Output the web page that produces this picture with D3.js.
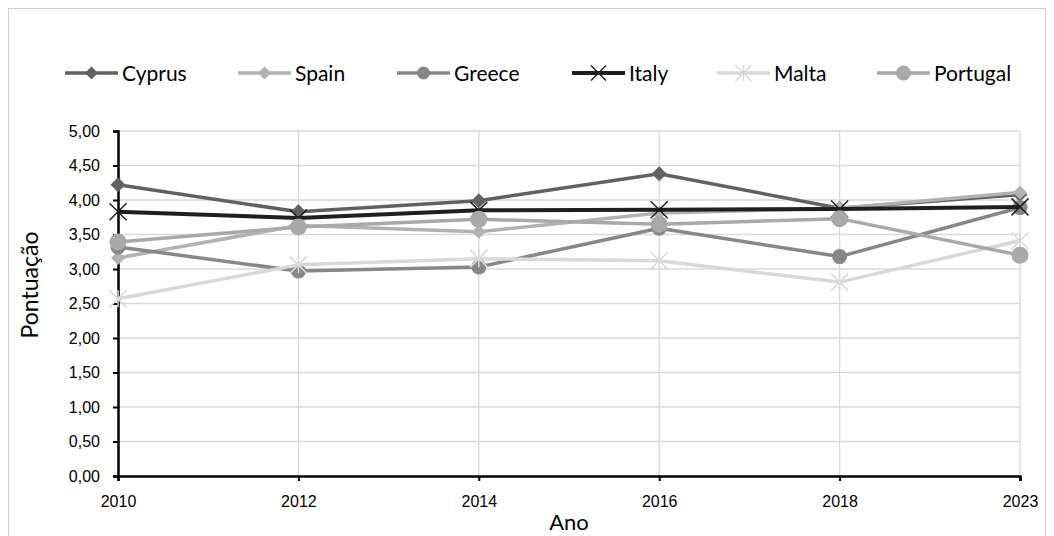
<!DOCTYPE html>
<html>
<head>
<meta charset="utf-8">
<script src="https://cdn.jsdelivr.net/npm/d3@7"></script>
<style>
  html, body { margin: 0; padding: 0; background: #fff; }
  svg { display: block; font-family: "Lato", "Open Sans", sans-serif; }
</style>
</head>
<body>
<svg id="chart" width="1054" height="536"></svg>
<script>
// Survey scores per country and year
const years = ["2010", "2012", "2014", "2016", "2018", "2023"];
const countries = ["Cyprus", "Spain", "Greece", "Italy", "Malta", "Portugal"];
const cyprus   = [4.22, 3.83, 3.99, 4.38, 3.88, 4.08];
const spain    = [3.16, 3.63, 3.54, 3.81, 3.88, 4.11];
const greece   = [3.32, 2.97, 3.03, 3.59, 3.18, 3.89];
const italy    = [3.83, 3.74, 3.85, 3.86, 3.87, 3.90];
const malta    = [2.57, 3.06, 3.15, 3.12, 2.81, 3.41];
const portugal = [3.39, 3.61, 3.72, 3.65, 3.73, 3.20];
const yTicks = [0, 0.5, 1, 1.5, 2, 2.5, 3, 3.5, 4, 4.5, 5];

const seriesValues = [cyprus, spain, greece, italy, malta, portugal];
const styles = [
  { color: "#616161", marker: "diamond", size: 7.5, width: 3.5 },
  { color: "#b2b2b2", marker: "diamond", size: 7,   width: 3.5 },
  { color: "#878787", marker: "circle",  size: 7.5, width: 3.5 },
  { color: "#1f1f1f", marker: "cross",   size: 8.5, width: 4 },
  { color: "#d9d9d9", marker: "star",    size: 8.5, width: 3.5 },
  { color: "#a9a9a9", marker: "circle",  size: 8.5, width: 3.5 }
];

const svg = d3.select("#chart");
const W = 1054, H = 536;
const margin = { left: 118, right: 34, top: 131, bottom: 60 };
const plotW = W - margin.left - margin.right;
const plotH = H - margin.top - margin.bottom;

// chart frame
svg.append("rect").attr("x", 8.5).attr("y", 8.5).attr("width", W - 17).attr("height", H)
  .attr("fill", "#fff").attr("stroke", "#d0d0d0").attr("stroke-width", 1);

const x = d3.scalePoint().domain(years).range([0, plotW]);
const y = d3.scaleLinear().domain([0, 5]).range([plotH, 0]);

const g = svg.append("g").attr("transform", `translate(${margin.left},${margin.top})`);

// horizontal gridlines
g.append("g").selectAll("line").data(yTicks.filter(d => d > 0)).join("line")
  .attr("x1", 0).attr("x2", plotW)
  .attr("y1", d => y(d)).attr("y2", d => y(d))
  .attr("stroke", "#d9d9d9").attr("stroke-width", 1.3);

// vertical gridlines
g.append("g").selectAll("line").data(years.slice(1)).join("line")
  .attr("x1", d => x(d)).attr("x2", d => x(d))
  .attr("y1", 0).attr("y2", plotH)
  .attr("stroke", "#d9d9d9").attr("stroke-width", 1.3);

// y axis
const fmt = d => d.toFixed(2).replace(".", ",");
const yAxis = g.append("g").call(d3.axisLeft(y).tickValues(yTicks).tickFormat(fmt).tickSize(5).tickPadding(13));
yAxis.select(".domain").attr("stroke", "#000").attr("stroke-width", 2.5);
yAxis.selectAll(".tick line").attr("stroke", "#000").attr("stroke-width", 2);
yAxis.selectAll("text").attr("font-size", 16).attr("fill", "#000");

// x axis
const xAxis = g.append("g").attr("transform", `translate(0,${plotH})`)
  .call(d3.axisBottom(x).tickSize(5).tickPadding(15));
xAxis.select(".domain").attr("stroke", "#000").attr("stroke-width", 2.5);
xAxis.selectAll(".tick line").attr("stroke", "#000").attr("stroke-width", 2);
xAxis.selectAll("text").attr("font-size", 16).attr("fill", "#000");

// axis titles
svg.append("text").attr("x", 569).attr("y", 530).attr("text-anchor", "middle")
  .attr("font-size", 22).attr("fill", "#000").text("Ano");
svg.append("text").attr("transform", "translate(38,285) rotate(-90)")
  .attr("text-anchor", "middle").attr("font-size", 23).attr("fill", "#000").text("Pontuação");

function drawMarker(sel, st, cx, cy) {
  const s = st.size;
  if (st.marker === "diamond") {
    sel.append("path").attr("d", `M${cx},${cy - s}L${cx + s},${cy}L${cx},${cy + s}L${cx - s},${cy}Z`)
      .attr("fill", st.color);
  } else if (st.marker === "circle") {
    sel.append("circle").attr("cx", cx).attr("cy", cy).attr("r", s).attr("fill", st.color);
  } else if (st.marker === "cross") {
    sel.append("path").attr("d", `M${cx - s},${cy - s}L${cx + s},${cy + s}M${cx - s},${cy + s}L${cx + s},${cy - s}`)
      .attr("stroke", st.color).attr("stroke-width", 1.5);
  } else if (st.marker === "star") {
    sel.append("path").attr("d",
      `M${cx - s},${cy - s}L${cx + s},${cy + s}M${cx - s},${cy + s}L${cx + s},${cy - s}M${cx},${cy - s}L${cx},${cy + s}`)
      .attr("stroke", st.color).attr("stroke-width", 1.5);
  }
}

const line = d3.line().x((d, i) => x(years[i])).y(d => y(d));

// series lines and markers
countries.forEach((c, k) => {
  const st = styles[k];
  const vals = seriesValues[k];
  const sg = g.append("g");
  sg.append("path").datum(vals).attr("d", line)
    .attr("fill", "none").attr("stroke", st.color).attr("stroke-width", st.width)
    .attr("stroke-linejoin", "round");
  vals.forEach((v, i) => drawMarker(sg, st, x(years[i]), y(v)));
});

// legend
const legendX = [65, 238, 397, 572, 717, 877];
const legendMarker = [6.5, 6.5, 6.5, 7.5, 8, 7.5];
const legendY = 73;
countries.forEach((c, k) => {
  const st = styles[k];
  const lg = svg.append("g");
  const x0 = legendX[k];
  lg.append("line").attr("x1", x0).attr("x2", x0 + 53).attr("y1", legendY).attr("y2", legendY)
    .attr("stroke", st.color).attr("stroke-width", st.width);
  drawMarker(lg, Object.assign({}, st, { size: legendMarker[k] }), x0 + 26.5, legendY);
  lg.append("text").attr("x", x0 + 57).attr("y", legendY + 7.5)
    .attr("font-size", 21).attr("fill", "#000").text(c);
});
</script>
</body>
</html>
